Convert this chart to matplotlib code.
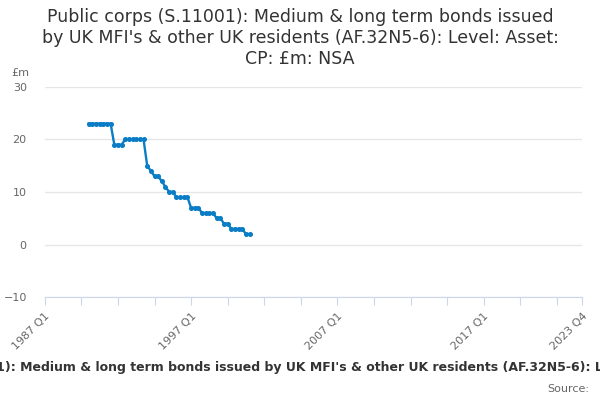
import matplotlib
matplotlib.use("Agg")
import matplotlib.pyplot as plt
import numpy as np

# ---- data ----
first_year, last_year = 1987, 2023
data_start = "1990 Q1"
values = [23, 23, 23, 23, 23, 23, 23,
          19, 19, 19,
          20, 20, 20, 20, 20, 20,
          15, 14, 13, 13, 12, 11, 10, 10,
          9, 9, 9, 9,
          7, 7, 7,
          6, 6, 6, 6,
          5, 5,
          4, 4,
          3, 3, 3, 3,
          2, 2]
tick_labels = ["1987 Q1", "1997 Q1", "2007 Q1", "2017 Q1", "2023 Q4"]
title = ("Public corps (S.11001): Medium & long term bonds issued\n"
         "by UK MFI's & other UK residents (AF.32N5-6): Level: Asset:\n"
         "CP: £m: NSA")
footer = ("Public corps (S.11001): Medium & long term bonds issued by UK MFI's & "
          "other UK residents (AF.32N5-6): Level: Asset: CP: £m: NSA")

# ---- build categories ----
quarters = [f"{y} Q{q}" for y in range(first_year, last_year + 1) for q in range(1, 5)]
pos = {q: i for i, q in enumerate(quarters)}
start = pos[data_start]
xs = np.arange(start, start + len(values))

fig = plt.figure(figsize=(6, 4), dpi=100)
ax = fig.add_axes([44.8 / 600, 1 - 297.3 / 400, 537.6 / 600, 210.6 / 400])

ax.plot(xs, values, color="#0a7dc6", lw=1.7, marker="o", ms=2.6, zorder=3)

ax.set_xlim(0, len(quarters) - 1)
ax.set_ylim(-10, 30)
ax.set_yticks([-10, 0, 10, 20, 30])
ax.grid(axis="y", color="#e6e6e6", lw=1)
ax.set_axisbelow(True)
for s in ["top", "right", "left"]:
    ax.spines[s].set_visible(False)
ax.spines["bottom"].set_color("#ccd6eb")
ax.spines["bottom"].set_position(("data", -10))

major = list(range(0, len(quarters), 10))
ax.set_xticks(major + [len(quarters) - 1])
labels = []
for i in major + [len(quarters) - 1]:
    labels.append(quarters[i] if quarters[i] in tick_labels else "")
ax.set_xticklabels(labels, rotation=45, ha="right", rotation_mode="anchor",
                   color="#666666", fontsize=8)
ax.tick_params(axis="x", length=6, color="#ccd6eb", pad=4)
ax.tick_params(axis="y", length=0, labelcolor="#666666", labelsize=8, pad=13)

fig.text(0.5, 1 - 8 / 400, title, ha="center", va="top", fontsize=12.5,
         color="#333333", linespacing=1.2)
fig.text(20 / 600, 1 - 73 / 400, "£m", ha="center", va="center",
         fontsize=8, color="#666666")
fig.text(315 / 600, 1 - 368 / 400, footer, ha="center", va="center",
         fontsize=9, fontweight="bold", color="#333333")
fig.text(589 / 600, 1 - 389 / 400, "Source:", ha="right", va="center",
         fontsize=8, color="#666666")

fig.savefig("out.png", dpi=100)
